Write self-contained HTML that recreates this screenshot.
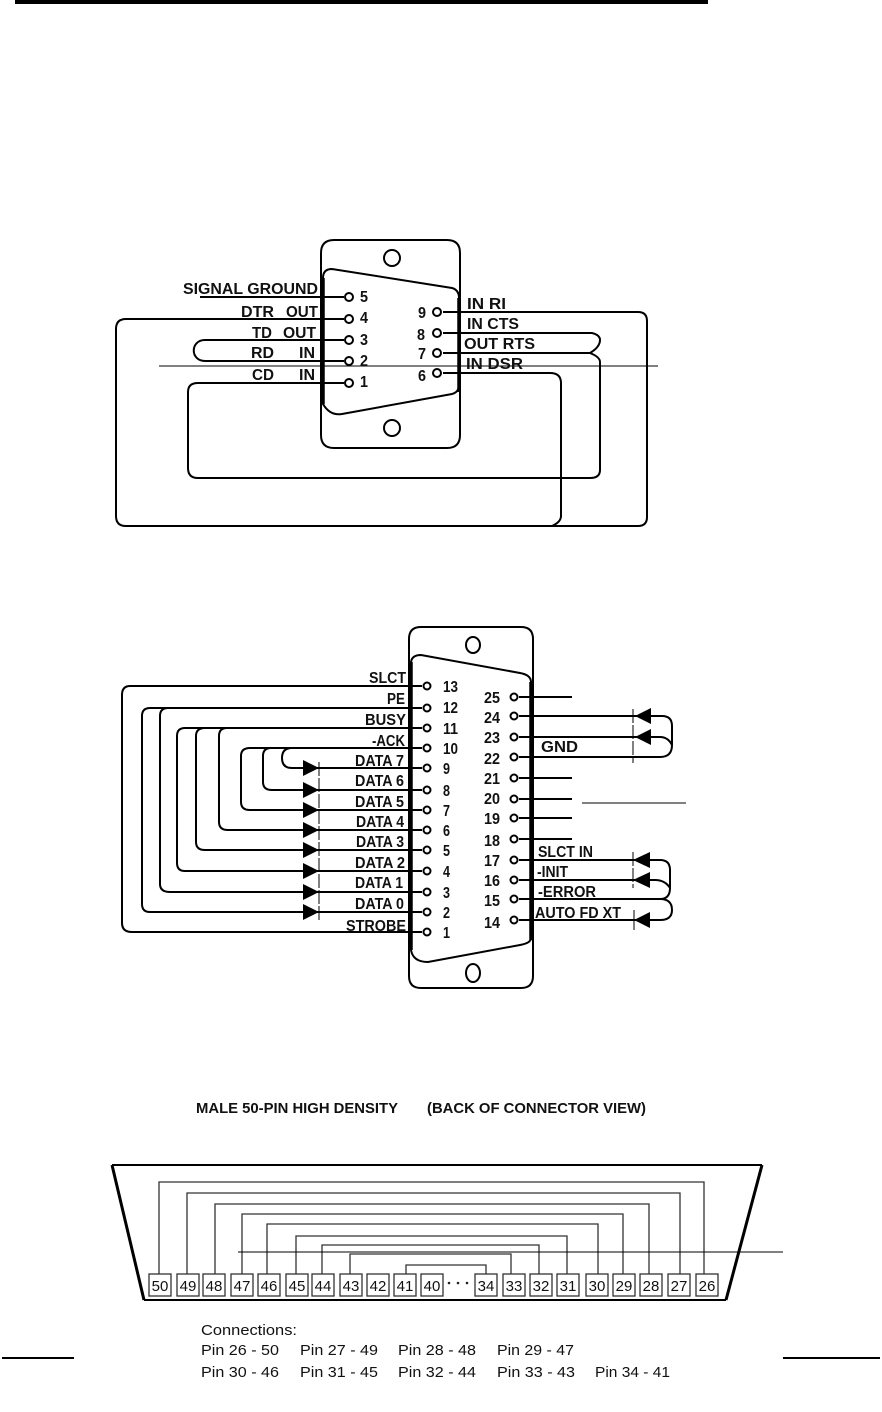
<!DOCTYPE html>
<html><head><meta charset="utf-8">
<style>
html,body{margin:0;padding:0;background:#fff}
svg{display:block}
text{font-family:"Liberation Sans",sans-serif;fill:#111}
.l{font-size:15.5px;font-weight:bold}
.n{font-size:15.5px;font-weight:bold}
.b{font-size:15px;text-anchor:middle}
.c{font-size:14.5px}
.w{fill:none;stroke:#000;stroke-width:2}
.t{fill:none;stroke:#000;stroke-width:2}
.v{fill:none;stroke:#000;stroke-width:3.5}
.p{fill:#fff;stroke:#000;stroke-width:2}
.a{fill:#000}
.d{fill:none;stroke:#000;stroke-width:1;stroke-dasharray:14 2}
.r{fill:#fff;stroke:#333;stroke-width:1.3}
.s{fill:none;stroke:#333;stroke-width:1.3}
.h{fill:none;stroke:#000;stroke-width:1}
</style></head><body>
<svg width="882" height="1412" viewBox="0 0 882 1412" xmlns="http://www.w3.org/2000/svg">
<rect x="15" y="0" width="693" height="4" fill="#000"/>

<!-- DB9 -->
<path class="w" d="M334 240H447Q460 240 460 253V435Q460 448 447 448H334Q321 448 321 435V253Q321 240 334 240Z"/>
<path class="t" d="M323 404V278Q323 269 332 269L452 288Q459 290 459 298V385Q459 392 452 394L342 414Q330 416 323 404Z"/>
<path class="v" d="M323 404V278M459 298V392"/>
<circle class="w" cx="392" cy="258" r="8"/>
<circle class="w" cx="392" cy="428" r="8"/>
<path class="h" d="M159 366H658"/>
<path class="w" d="M200 297H344"/>
<path class="w" d="M344 319H126Q116 319 116 329V516Q116 526 126 526H638Q647 526 647 517V321Q647 312 638 312H443"/>
<path class="w" d="M344 340H205C190 340 190 361 205 361H344"/>
<path class="w" d="M344 383H198Q188 383 188 392V468Q188 478 198 478H590Q600 478 600 470V362Q600 357 590 353H443"/>
<path class="w" d="M443 333H592Q600 335 600 340Q600 347 590 353"/>
<path class="w" d="M443 373H550Q561 373 561 383V516Q561 522 552 526"/>
<circle class="p" cx="349" cy="297" r="4"/><circle class="p" cx="349" cy="319" r="4"/><circle class="p" cx="349" cy="340" r="4"/><circle class="p" cx="349" cy="361" r="4"/><circle class="p" cx="349" cy="383" r="4"/>
<circle class="p" cx="437" cy="312" r="4"/><circle class="p" cx="437" cy="333" r="4"/><circle class="p" cx="437" cy="353" r="4"/><circle class="p" cx="437" cy="373" r="4"/>
<text class="l" x="183" y="294" textLength="135" lengthAdjust="spacingAndGlyphs">SIGNAL GROUND</text>
<text class="l" x="241" y="317" textLength="33" lengthAdjust="spacingAndGlyphs">DTR</text>
<text class="l" x="286" y="317" textLength="32" lengthAdjust="spacingAndGlyphs">OUT</text>
<text class="l" x="252" y="338" textLength="20" lengthAdjust="spacingAndGlyphs">TD</text>
<text class="l" x="283" y="338" textLength="33" lengthAdjust="spacingAndGlyphs">OUT</text>
<text class="l" x="251" y="358" textLength="23" lengthAdjust="spacingAndGlyphs">RD</text>
<text class="l" x="299" y="358" textLength="16" lengthAdjust="spacingAndGlyphs">IN</text>
<text class="l" x="252" y="380" textLength="22" lengthAdjust="spacingAndGlyphs">CD</text>
<text class="l" x="299" y="380" textLength="16" lengthAdjust="spacingAndGlyphs">IN</text>
<text class="n" x="360" y="302" textLength="8" lengthAdjust="spacingAndGlyphs">5</text><text class="n" x="360" y="323" textLength="8" lengthAdjust="spacingAndGlyphs">4</text><text class="n" x="360" y="345" textLength="8" lengthAdjust="spacingAndGlyphs">3</text><text class="n" x="360" y="366" textLength="8" lengthAdjust="spacingAndGlyphs">2</text><text class="n" x="360" y="387" textLength="8" lengthAdjust="spacingAndGlyphs">1</text>
<text class="n" x="418" y="318" textLength="8" lengthAdjust="spacingAndGlyphs">9</text><text class="n" x="417" y="340" textLength="8" lengthAdjust="spacingAndGlyphs">8</text><text class="n" x="418" y="359" textLength="8" lengthAdjust="spacingAndGlyphs">7</text><text class="n" x="418" y="381" textLength="8" lengthAdjust="spacingAndGlyphs">6</text>
<text class="l" x="467" y="309" textLength="39" lengthAdjust="spacingAndGlyphs">IN RI</text>
<text class="l" x="467" y="329" textLength="52" lengthAdjust="spacingAndGlyphs">IN CTS</text>
<text class="l" x="464" y="349" textLength="71" lengthAdjust="spacingAndGlyphs">OUT RTS</text>
<text class="l" x="466" y="369" textLength="57" lengthAdjust="spacingAndGlyphs">IN DSR</text>

<!-- DB25 -->
<path class="w" d="M421 627H521Q533 627 533 639V976Q533 988 521 988H421Q409 988 409 976V639Q409 627 421 627Z"/>
<path class="t" d="M411 950V662Q412 655 421 655L520 673Q531 675 531 682V938Q531 943 520 945L428 962Q413 962 411 950Z"/>
<path class="v" d="M411 950V662M531 682V940"/>
<ellipse class="w" cx="473" cy="645" rx="7" ry="8"/>
<ellipse class="w" cx="473" cy="973" rx="7" ry="9"/>

<path class="w" d="M422 686H130Q122 686 122 695V923Q122 932 132 932H422"/>
<path class="w" d="M422 708H150Q142 708 142 716V904Q142 912 150 912H422"/>
<path class="w" d="M168 708Q160 708 160 716V884Q160 892 170 892H422"/>
<path class="w" d="M422 728H185Q177 728 177 736V863Q177 871 185 871H422"/>
<path class="w" d="M205 728Q196 728 196 736V842Q196 850 205 850H422"/>
<path class="w" d="M227 728Q219 728 219 736V822Q219 830 228 830H422"/>
<path class="w" d="M422 748H250Q241 748 241 756V802Q241 810 250 810H422"/>
<path class="w" d="M271 748Q263 748 263 756V782Q263 790 272 790H422"/>
<path class="w" d="M292 748Q282 748 282 758Q282 768 292 768H422"/>
<path class="d" d="M319 762V920"/>
<path class="a" d="M303 760L319 768L303 776ZM303 782L319 790L303 798ZM303 802L319 810L303 818ZM303 822L319 830L303 838ZM303 842L319 850L303 858ZM303 863L319 871L303 879ZM303 884L319 892L303 900ZM303 904L319 912L303 920Z"/>
<g>
<circle class="p" cx="427" cy="686" r="3.5"/><circle class="p" cx="427" cy="708" r="3.5"/><circle class="p" cx="427" cy="728" r="3.5"/><circle class="p" cx="427" cy="748" r="3.5"/><circle class="p" cx="427" cy="768" r="3.5"/><circle class="p" cx="427" cy="790" r="3.5"/><circle class="p" cx="427" cy="810" r="3.5"/><circle class="p" cx="427" cy="830" r="3.5"/><circle class="p" cx="427" cy="850" r="3.5"/><circle class="p" cx="427" cy="871" r="3.5"/><circle class="p" cx="427" cy="892" r="3.5"/><circle class="p" cx="427" cy="912" r="3.5"/><circle class="p" cx="427" cy="932" r="3.5"/>
</g>
<text class="n" x="443" y="692" textLength="15" lengthAdjust="spacingAndGlyphs">13</text><text class="n" x="443" y="713" textLength="15" lengthAdjust="spacingAndGlyphs">12</text><text class="n" x="443" y="734" textLength="15" lengthAdjust="spacingAndGlyphs">11</text><text class="n" x="443" y="754" textLength="15" lengthAdjust="spacingAndGlyphs">10</text>
<text class="n" x="443" y="774" textLength="7" lengthAdjust="spacingAndGlyphs">9</text><text class="n" x="443" y="796" textLength="7" lengthAdjust="spacingAndGlyphs">8</text><text class="n" x="443" y="816" textLength="7" lengthAdjust="spacingAndGlyphs">7</text><text class="n" x="443" y="836" textLength="7" lengthAdjust="spacingAndGlyphs">6</text><text class="n" x="443" y="856" textLength="7" lengthAdjust="spacingAndGlyphs">5</text><text class="n" x="443" y="877" textLength="7" lengthAdjust="spacingAndGlyphs">4</text><text class="n" x="443" y="898" textLength="7" lengthAdjust="spacingAndGlyphs">3</text><text class="n" x="443" y="918" textLength="7" lengthAdjust="spacingAndGlyphs">2</text><text class="n" x="443" y="938" textLength="7" lengthAdjust="spacingAndGlyphs">1</text>
<text class="l" x="369" y="683" textLength="37" lengthAdjust="spacingAndGlyphs">SLCT</text>
<text class="l" x="387" y="704" textLength="18" lengthAdjust="spacingAndGlyphs">PE</text>
<text class="l" x="365" y="725" textLength="41" lengthAdjust="spacingAndGlyphs">BUSY</text>
<text class="l" x="372" y="746" textLength="33" lengthAdjust="spacingAndGlyphs">-ACK</text>
<text class="l" x="355" y="766" textLength="49" lengthAdjust="spacingAndGlyphs">DATA 7</text>
<text class="l" x="355" y="786" textLength="49" lengthAdjust="spacingAndGlyphs">DATA 6</text>
<text class="l" x="355" y="807" textLength="49" lengthAdjust="spacingAndGlyphs">DATA 5</text>
<text class="l" x="356" y="827" textLength="48" lengthAdjust="spacingAndGlyphs">DATA 4</text>
<text class="l" x="356" y="847" textLength="48" lengthAdjust="spacingAndGlyphs">DATA 3</text>
<text class="l" x="355" y="868" textLength="50" lengthAdjust="spacingAndGlyphs">DATA 2</text>
<text class="l" x="355" y="888" textLength="48" lengthAdjust="spacingAndGlyphs">DATA 1</text>
<text class="l" x="355" y="909" textLength="49" lengthAdjust="spacingAndGlyphs">DATA 0</text>
<text class="l" x="346" y="931" textLength="60" lengthAdjust="spacingAndGlyphs">STROBE</text>

<path class="w" d="M519 697H572M519 778H572M519 799H572M519 818H572M519 839H572"/>
<path class="w" d="M519 716H662Q672 716 672 726V745Q672 757 660 757H519"/>
<path class="w" d="M519 737H660Q668 737 672 745"/>
<path class="w" d="M519 860H660Q670 860 670 870V888Q670 899 660 899H519"/>
<path class="w" d="M519 880H655Q665 880 670 888"/>
<path class="w" d="M519 920H660Q672 920 672 910Q672 899 660 899"/>
<path class="d" d="M633 709V763M633 852V888"/>
<path class="h" d="M634 910V930"/>
<path class="a" d="M651 708L635 716L651 724ZM651 729L635 737L651 745ZM650 852L633 860L650 868ZM650 872L633 880L650 888ZM650 912L634 920L650 928Z"/>
<path class="h" d="M582 803H686"/>
<circle class="p" cx="514" cy="697" r="3.5"/><circle class="p" cx="514" cy="716" r="3.5"/><circle class="p" cx="514" cy="737" r="3.5"/><circle class="p" cx="514" cy="757" r="3.5"/><circle class="p" cx="514" cy="778" r="3.5"/><circle class="p" cx="514" cy="799" r="3.5"/><circle class="p" cx="514" cy="818" r="3.5"/><circle class="p" cx="514" cy="839" r="3.5"/><circle class="p" cx="514" cy="860" r="3.5"/><circle class="p" cx="514" cy="880" r="3.5"/><circle class="p" cx="514" cy="899" r="3.5"/><circle class="p" cx="514" cy="920" r="3.5"/>
<text class="n" x="484" y="703" textLength="16" lengthAdjust="spacingAndGlyphs">25</text><text class="n" x="484" y="723" textLength="16" lengthAdjust="spacingAndGlyphs">24</text><text class="n" x="484" y="743" textLength="16" lengthAdjust="spacingAndGlyphs">23</text><text class="n" x="484" y="764" textLength="16" lengthAdjust="spacingAndGlyphs">22</text><text class="n" x="484" y="784" textLength="16" lengthAdjust="spacingAndGlyphs">21</text><text class="n" x="484" y="804" textLength="16" lengthAdjust="spacingAndGlyphs">20</text><text class="n" x="484" y="824" textLength="16" lengthAdjust="spacingAndGlyphs">19</text><text class="n" x="484" y="846" textLength="16" lengthAdjust="spacingAndGlyphs">18</text><text class="n" x="484" y="866" textLength="16" lengthAdjust="spacingAndGlyphs">17</text><text class="n" x="484" y="886" textLength="16" lengthAdjust="spacingAndGlyphs">16</text><text class="n" x="484" y="906" textLength="16" lengthAdjust="spacingAndGlyphs">15</text><text class="n" x="484" y="928" textLength="16" lengthAdjust="spacingAndGlyphs">14</text>
<text class="l" x="541" y="752" textLength="37" lengthAdjust="spacingAndGlyphs">GND</text>
<text class="l" x="538" y="857" textLength="55" lengthAdjust="spacingAndGlyphs">SLCT IN</text>
<text class="l" x="537" y="877" textLength="31" lengthAdjust="spacingAndGlyphs">-INIT</text>
<text class="l" x="538" y="897" textLength="58" lengthAdjust="spacingAndGlyphs">-ERROR</text>
<text class="l" x="535" y="918" textLength="86" lengthAdjust="spacingAndGlyphs">AUTO FD XT</text>

<!-- 50 pin -->
<text x="196" y="1113" font-size="15" font-weight="bold" textLength="202" lengthAdjust="spacingAndGlyphs">MALE 50-PIN HIGH DENSITY</text>
<text x="427" y="1113" font-size="15" font-weight="bold" textLength="219" lengthAdjust="spacingAndGlyphs">(BACK OF CONNECTOR VIEW)</text>
<path d="M112 1165H762M144 1300H726" fill="none" stroke="#000" stroke-width="2"/>
<path d="M112 1165L144 1300M762 1165L726 1300" fill="none" stroke="#000" stroke-width="3"/>
<path class="s" d="M159 1274V1182H704V1274M187 1274V1193H680V1274M215 1274V1204H649V1274M242 1274V1214H623V1274M267 1274V1224H598V1274M296 1274V1236H567V1274M322 1274V1245H539V1274M350 1274V1254H511V1274M406 1274V1265H486V1274"/>
<path class="h" d="M238 1252H783"/>
<g>
<rect class="r" x="149" y="1274" width="22" height="22"/><rect class="r" x="177" y="1274" width="22" height="22"/><rect class="r" x="203" y="1274" width="22" height="22"/><rect class="r" x="231" y="1274" width="22" height="22"/><rect class="r" x="258" y="1274" width="22" height="22"/><rect class="r" x="286" y="1274" width="22" height="22"/><rect class="r" x="312" y="1274" width="22" height="22"/><rect class="r" x="340" y="1274" width="22" height="22"/><rect class="r" x="367" y="1274" width="22" height="22"/><rect class="r" x="394" y="1274" width="22" height="22"/><rect class="r" x="421" y="1274" width="22" height="22"/>
<rect class="r" x="475" y="1274" width="22" height="22"/><rect class="r" x="503" y="1274" width="22" height="22"/><rect class="r" x="530" y="1274" width="22" height="22"/><rect class="r" x="557" y="1274" width="22" height="22"/><rect class="r" x="586" y="1274" width="22" height="22"/><rect class="r" x="613" y="1274" width="22" height="22"/><rect class="r" x="640" y="1274" width="22" height="22"/><rect class="r" x="668" y="1274" width="22" height="22"/><rect class="r" x="696" y="1274" width="22" height="22"/>
</g>
<text class="b" x="160" y="1291">50</text><text class="b" x="188" y="1291">49</text><text class="b" x="214" y="1291">48</text><text class="b" x="242" y="1291">47</text><text class="b" x="269" y="1291">46</text><text class="b" x="297" y="1291">45</text><text class="b" x="323" y="1291">44</text><text class="b" x="351" y="1291">43</text><text class="b" x="378" y="1291">42</text><text class="b" x="405" y="1291">41</text><text class="b" x="432" y="1291">40</text>
<text class="b" x="486" y="1291">34</text><text class="b" x="514" y="1291">33</text><text class="b" x="541" y="1291">32</text><text class="b" x="568" y="1291">31</text><text class="b" x="597" y="1291">30</text><text class="b" x="624" y="1291">29</text><text class="b" x="651" y="1291">28</text><text class="b" x="679" y="1291">27</text><text class="b" x="707" y="1291">26</text>
<circle cx="449" cy="1283" r="1.3" fill="#222"/><circle cx="458" cy="1283" r="1.3" fill="#222"/><circle cx="467" cy="1283" r="1.3" fill="#222"/>

<text class="c" x="201" y="1335" textLength="96" lengthAdjust="spacingAndGlyphs">Connections:</text>
<text class="c" x="201" y="1355" textLength="78" lengthAdjust="spacingAndGlyphs">Pin 26 - 50</text>
<text class="c" x="300" y="1355" textLength="78" lengthAdjust="spacingAndGlyphs">Pin 27 - 49</text>
<text class="c" x="398" y="1355" textLength="78" lengthAdjust="spacingAndGlyphs">Pin 28 - 48</text>
<text class="c" x="497" y="1355" textLength="77" lengthAdjust="spacingAndGlyphs">Pin 29 - 47</text>
<text class="c" x="201" y="1377" textLength="78" lengthAdjust="spacingAndGlyphs">Pin 30 - 46</text>
<text class="c" x="300" y="1377" textLength="78" lengthAdjust="spacingAndGlyphs">Pin 31 - 45</text>
<text class="c" x="398" y="1377" textLength="78" lengthAdjust="spacingAndGlyphs">Pin 32 - 44</text>
<text class="c" x="497" y="1377" textLength="78" lengthAdjust="spacingAndGlyphs">Pin 33 - 43</text>
<text class="c" x="595" y="1377" textLength="75" lengthAdjust="spacingAndGlyphs">Pin 34 - 41</text>
<rect x="2" y="1357" width="72" height="2" fill="#000"/>
<rect x="783" y="1357" width="97" height="2" fill="#000"/>
</svg>
</body></html>
